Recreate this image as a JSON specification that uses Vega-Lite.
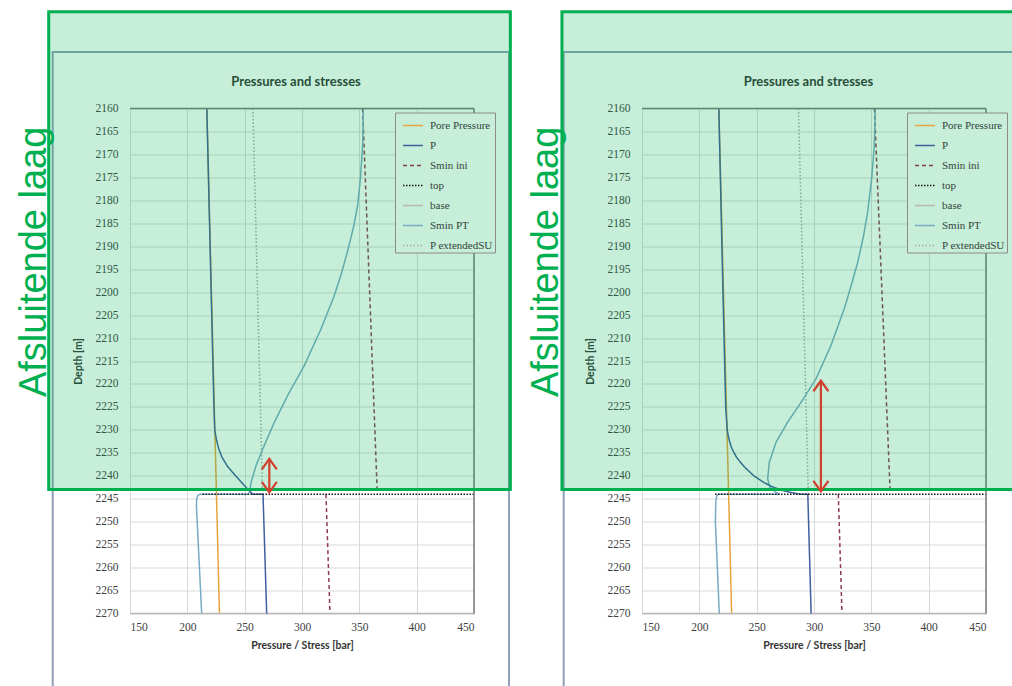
{
  "$schema": "https://vega.github.io/schema/vega-lite/v6.json",
  "padding": {"left": 15, "top": 9.5, "right": 0, "bottom": 0},
  "background": "white",
  "bounds": "flush",
  "spacing": 168,
  "datasets": {
    "seriesL": [
      {"s": "Pore Pressure", "g": "A", "d": 2160, "v": 217},
      {"s": "Pore Pressure", "g": "A", "d": 2270, "v": 228},
      {"s": "P extendedSU", "g": "E", "d": 2160, "v": 257.2},
      {"s": "P extendedSU", "g": "E", "d": 2244, "v": 265.6},
      {"s": "Smin ini", "g": "S1", "d": 2160, "v": 352.9},
      {"s": "Smin ini", "g": "S1", "d": 2243.5, "v": 365.6},
      {"s": "Smin ini", "g": "S2", "d": 2244, "v": 320.9},
      {"s": "Smin ini", "g": "S2", "d": 2270, "v": 324.4},
      {"s": "base", "g": "B", "d": 2270, "v": 150},
      {"s": "base", "g": "B", "d": 2270, "v": 450},
      {"s": "Smin PT", "g": "T", "d": 2160, "v": 353.5},
      {"s": "Smin PT", "g": "T", "d": 2164, "v": 353.3},
      {"s": "Smin PT", "g": "T", "d": 2168, "v": 352.9},
      {"s": "Smin PT", "g": "T", "d": 2175, "v": 351.0},
      {"s": "Smin PT", "g": "T", "d": 2181, "v": 348.6},
      {"s": "Smin PT", "g": "T", "d": 2186, "v": 344.8},
      {"s": "Smin PT", "g": "T", "d": 2191, "v": 339.8},
      {"s": "Smin PT", "g": "T", "d": 2196, "v": 334.3},
      {"s": "Smin PT", "g": "T", "d": 2201, "v": 327.8},
      {"s": "Smin PT", "g": "T", "d": 2208, "v": 316.6},
      {"s": "Smin PT", "g": "T", "d": 2216, "v": 302.0},
      {"s": "Smin PT", "g": "T", "d": 2222.5, "v": 287.5},
      {"s": "Smin PT", "g": "T", "d": 2228.4, "v": 275.8},
      {"s": "Smin PT", "g": "T", "d": 2234.2, "v": 265.7},
      {"s": "Smin PT", "g": "T", "d": 2237.8, "v": 259.9},
      {"s": "Smin PT", "g": "T", "d": 2241.4, "v": 255.6},
      {"s": "Smin PT", "g": "T", "d": 2243.6, "v": 254.3},
      {"s": "Smin PT", "g": "T", "d": 2244, "v": 253},
      {"s": "Smin PT", "g": "T", "d": 2244, "v": 211},
      {"s": "Smin PT", "g": "T", "d": 2244.3, "v": 209.2},
      {"s": "Smin PT", "g": "T", "d": 2245, "v": 208.2},
      {"s": "Smin PT", "g": "T", "d": 2246.5, "v": 207.9},
      {"s": "Smin PT", "g": "T", "d": 2270, "v": 212.5},
      {"s": "P", "g": "P1", "d": 2160, "v": 217},
      {"s": "P", "g": "P1", "d": 2200, "v": 220.8},
      {"s": "P", "g": "P1", "d": 2225, "v": 223.2},
      {"s": "P", "g": "P1", "d": 2230, "v": 223.9},
      {"s": "P", "g": "P1", "d": 2232, "v": 225.3},
      {"s": "P", "g": "P1", "d": 2234, "v": 227.2},
      {"s": "P", "g": "P1", "d": 2236, "v": 230.3},
      {"s": "P", "g": "P1", "d": 2238, "v": 235.2},
      {"s": "P", "g": "P1", "d": 2240, "v": 242.0},
      {"s": "P", "g": "P1", "d": 2241.5, "v": 247.5},
      {"s": "P", "g": "P1", "d": 2243, "v": 253.0},
      {"s": "P", "g": "P1", "d": 2244, "v": 257},
      {"s": "P", "g": "P1", "d": 2244, "v": 266},
      {"s": "P", "g": "P1", "d": 2270, "v": 269.2},
      {"s": "top", "g": "O", "d": 2244, "v": 213.2},
      {"s": "top", "g": "O", "d": 2244, "v": 450}
    ],
    "seriesR": [
      {"s": "Pore Pressure", "g": "A", "d": 2160, "v": 217},
      {"s": "Pore Pressure", "g": "A", "d": 2270, "v": 228.2},
      {"s": "P extendedSU", "g": "E", "d": 2160, "v": 286.5},
      {"s": "P extendedSU", "g": "E", "d": 2244, "v": 295.0},
      {"s": "Smin ini", "g": "S1", "d": 2160, "v": 352.7},
      {"s": "Smin ini", "g": "S1", "d": 2243.5, "v": 366.4},
      {"s": "Smin ini", "g": "S2", "d": 2244, "v": 321.2},
      {"s": "Smin ini", "g": "S2", "d": 2270, "v": 324.4},
      {"s": "base", "g": "B", "d": 2270, "v": 150},
      {"s": "base", "g": "B", "d": 2270, "v": 450},
      {"s": "Smin PT", "g": "T", "d": 2160, "v": 353.5},
      {"s": "Smin PT", "g": "T", "d": 2168, "v": 352.6},
      {"s": "Smin PT", "g": "T", "d": 2175, "v": 350.4},
      {"s": "Smin PT", "g": "T", "d": 2182.6, "v": 346.8},
      {"s": "Smin PT", "g": "T", "d": 2188, "v": 343.0},
      {"s": "Smin PT", "g": "T", "d": 2193.5, "v": 338.1},
      {"s": "Smin PT", "g": "T", "d": 2198.5, "v": 332.5},
      {"s": "Smin PT", "g": "T", "d": 2203.6, "v": 326.4},
      {"s": "Smin PT", "g": "T", "d": 2211.6, "v": 314.8},
      {"s": "Smin PT", "g": "T", "d": 2218.9, "v": 301.7},
      {"s": "Smin PT", "g": "T", "d": 2224, "v": 288.7},
      {"s": "Smin PT", "g": "T", "d": 2228.3, "v": 277.1},
      {"s": "Smin PT", "g": "T", "d": 2232.7, "v": 266.9},
      {"s": "Smin PT", "g": "T", "d": 2237.1, "v": 261.0},
      {"s": "Smin PT", "g": "T", "d": 2240.7, "v": 259.6},
      {"s": "Smin PT", "g": "T", "d": 2242.5, "v": 261.5},
      {"s": "Smin PT", "g": "T", "d": 2243.5, "v": 266},
      {"s": "Smin PT", "g": "T", "d": 2244, "v": 270},
      {"s": "Smin PT", "g": "T", "d": 2244, "v": 216.5},
      {"s": "Smin PT", "g": "T", "d": 2244.4, "v": 215.2},
      {"s": "Smin PT", "g": "T", "d": 2245.5, "v": 214.4},
      {"s": "Smin PT", "g": "T", "d": 2250, "v": 214.0},
      {"s": "Smin PT", "g": "T", "d": 2270, "v": 217.4},
      {"s": "P", "g": "P1", "d": 2160, "v": 217},
      {"s": "P", "g": "P1", "d": 2200, "v": 220.6},
      {"s": "P", "g": "P1", "d": 2225, "v": 223.0},
      {"s": "P", "g": "P1", "d": 2230, "v": 224.3},
      {"s": "P", "g": "P1", "d": 2232, "v": 225.8},
      {"s": "P", "g": "P1", "d": 2234, "v": 228.2},
      {"s": "P", "g": "P1", "d": 2236, "v": 232.5},
      {"s": "P", "g": "P1", "d": 2238, "v": 239.0},
      {"s": "P", "g": "P1", "d": 2240, "v": 247.5},
      {"s": "P", "g": "P1", "d": 2241.5, "v": 256.5},
      {"s": "P", "g": "P1", "d": 2242.5, "v": 264.5},
      {"s": "P", "g": "P1", "d": 2243.3, "v": 274},
      {"s": "P", "g": "P1", "d": 2243.8, "v": 283},
      {"s": "P", "g": "P1", "d": 2244, "v": 288},
      {"s": "P", "g": "P1", "d": 2244, "v": 294.6},
      {"s": "P", "g": "P1", "d": 2270, "v": 297.5},
      {"s": "top", "g": "O", "d": 2244, "v": 213.7},
      {"s": "top", "g": "O", "d": 2244, "v": 450}
    ],
    "edge": [
      {"v": 150, "d": 2160, "v2": 450, "d2": 2160},
      {"v": 450, "d": 2160, "v2": 450, "d2": 2270}
    ],
    "frameBoxL": [{"v": 82.6, "v2": 480.5, "d": 2147.7, "d2": 2290}],
    "frameBoxR": [{"v": 81.7, "v2": 500, "d": 2147.7, "d2": 2290}],
    "greenL": [{"v": 79.1, "v2": 481.7, "d": 2138.9, "d2": 2243.0}],
    "greenR": [{"v": 80.2, "v2": 490, "d": 2138.9, "d2": 2243.0}],
    "arrowL": [{"v": 271.5, "d": 2236.3, "d2": 2243.6}],
    "arrowR": [{"v": 306, "d": 2219.3, "d2": 2243.4}],
    "headsL": [{"v": 271.5, "d": 2236.3, "h": "up"}, {"v": 271.5, "d": 2243.6, "h": "down"}],
    "headsR": [{"v": 306, "d": 2219.3, "h": "up"}, {"v": 306, "d": 2243.4, "h": "down"}],
    "labelL": [{"v": 76.7, "d": 2193.4, "t": "Afsluitende laag"}],
    "labelR": [{"v": 76.7, "d": 2193.4, "t": "Afsluitende laag"}],
    "titleL": [{"v": 294.8, "d": 2155.2, "t": "Pressures and stresses"}],
    "titleR": [{"v": 295.2, "d": 2155.2, "t": "Pressures and stresses"}]
  },
  "hconcat": [
    {
      "width": 344,
      "height": 505,
      "encoding": {
        "x": {"field": "v", "type": "quantitative", "title": "Pressure / Stress [bar]", "scale": {"domain": [150, 450], "nice": false, "zero": false}, "axis": {"values": [150, 200, 250, 300, 350, 400, 450], "format": "d"}},
        "y": {"field": "d", "type": "quantitative", "title": "Depth [m]", "scale": {"domain": [2160, 2270], "reverse": true, "nice": false, "zero": false}, "axis": {"format": "d", "values": [2160, 2165, 2170, 2175, 2180, 2185, 2190, 2195, 2200, 2205, 2210, 2215, 2220, 2225, 2230, 2235, 2240, 2245, 2250, 2255, 2260, 2265, 2270]}}
      },
      "layer": [
        {"data": {"name": "frameBoxL"}, "mark": {"type": "rect", "fill": "transparent", "stroke": "#8FA0B8", "strokeWidth": 2}, "encoding": {"x2": {"field": "v2"}, "y2": {"field": "d2"}}},
        {"data": {"name": "seriesL"}, "mark": {"type": "line", "strokeWidth": 1.5},
         "encoding": {
           "color": {"field": "s", "type": "nominal", "scale": {"domain": ["Pore Pressure", "P", "Smin ini", "top", "base", "Smin PT", "P extendedSU"], "range": ["#E8A33D", "#3F5F9E", "#8E3B4E", "#1a1a1a", "#B8B8B8", "#7AAAC4", "#A8A8A8"]}, "legend": {"title": null}},
           "strokeDash": {"field": "s", "type": "nominal", "scale": {"domain": ["Pore Pressure", "P", "Smin ini", "top", "base", "Smin PT", "P extendedSU"], "range": [[1, 0], [1, 0], [4, 3], [1.5, 1.5], [1, 0], [1, 0], [1.5, 2]]}, "legend": {"title": null}},
           "detail": {"field": "g"},
           "order": {"value": null}
         }},
        {"data": {"name": "edge"}, "mark": {"type": "rule", "color": "#7a7a7a", "strokeWidth": 1.5}, "encoding": {"x2": {"field": "v2"}, "y2": {"field": "d2"}}},
        {"data": {"name": "titleL"}, "mark": {"type": "text", "align": "center", "baseline": "alphabetic", "font": "Lato", "fontSize": 13, "fontWeight": "bold", "color": "#333333"}, "encoding": {"text": {"field": "t"}}},
        {"data": {"name": "greenL"}, "mark": {"type": "rect", "fill": "#00B050", "fillOpacity": 0.22, "stroke": "#00B050", "strokeWidth": 3}, "encoding": {"x2": {"field": "v2"}, "y2": {"field": "d2"}}},
        {"data": {"name": "arrowL"}, "mark": {"type": "rule", "color": "#D0402C", "strokeWidth": 2.2}, "encoding": {"y2": {"field": "d2"}}},
        {"data": {"name": "headsL"}, "mark": {"type": "point", "filled": false, "color": "#D0402C", "strokeWidth": 2.2, "size": 225, "opacity": 1},
         "encoding": {"shape": {"field": "h", "type": "nominal", "scale": {"domain": ["up", "down"], "range": ["M -1 1.4 L 0 0 L 1 1.4", "M -1 -1.4 L 0 0 L 1 -1.4"]}, "legend": null}}},
        {"data": {"name": "labelL"}, "mark": {"type": "text", "angle": 270, "align": "center", "baseline": "alphabetic", "font": "Liberation Sans", "fontSize": 38, "color": "#00B050"}, "encoding": {"text": {"field": "t"}}}
      ]
    },
    {
      "width": 344,
      "height": 505,
      "encoding": {
        "x": {"field": "v", "type": "quantitative", "title": "Pressure / Stress [bar]", "scale": {"domain": [150, 450], "nice": false, "zero": false}, "axis": {"values": [150, 200, 250, 300, 350, 400, 450], "format": "d"}},
        "y": {"field": "d", "type": "quantitative", "title": "Depth [m]", "scale": {"domain": [2160, 2270], "reverse": true, "nice": false, "zero": false}, "axis": {"format": "d", "values": [2160, 2165, 2170, 2175, 2180, 2185, 2190, 2195, 2200, 2205, 2210, 2215, 2220, 2225, 2230, 2235, 2240, 2245, 2250, 2255, 2260, 2265, 2270]}}
      },
      "layer": [
        {"data": {"name": "frameBoxR"}, "mark": {"type": "rect", "fill": "transparent", "stroke": "#8FA0B8", "strokeWidth": 2}, "encoding": {"x2": {"field": "v2"}, "y2": {"field": "d2"}}},
        {"data": {"name": "seriesR"}, "mark": {"type": "line", "strokeWidth": 1.5},
         "encoding": {
           "color": {"field": "s", "type": "nominal", "scale": {"domain": ["Pore Pressure", "P", "Smin ini", "top", "base", "Smin PT", "P extendedSU"], "range": ["#E8A33D", "#3F5F9E", "#8E3B4E", "#1a1a1a", "#B8B8B8", "#7AAAC4", "#A8A8A8"]}, "legend": {"title": null}},
           "strokeDash": {"field": "s", "type": "nominal", "scale": {"domain": ["Pore Pressure", "P", "Smin ini", "top", "base", "Smin PT", "P extendedSU"], "range": [[1, 0], [1, 0], [4, 3], [1.5, 1.5], [1, 0], [1, 0], [1.5, 2]]}, "legend": {"title": null}},
           "detail": {"field": "g"},
           "order": {"value": null}
         }},
        {"data": {"name": "edge"}, "mark": {"type": "rule", "color": "#7a7a7a", "strokeWidth": 1.5}, "encoding": {"x2": {"field": "v2"}, "y2": {"field": "d2"}}},
        {"data": {"name": "titleR"}, "mark": {"type": "text", "align": "center", "baseline": "alphabetic", "font": "Lato", "fontSize": 13, "fontWeight": "bold", "color": "#333333"}, "encoding": {"text": {"field": "t"}}},
        {"data": {"name": "greenR"}, "mark": {"type": "rect", "fill": "#00B050", "fillOpacity": 0.22, "stroke": "#00B050", "strokeWidth": 3}, "encoding": {"x2": {"field": "v2"}, "y2": {"field": "d2"}}},
        {"data": {"name": "arrowR"}, "mark": {"type": "rule", "color": "#D0402C", "strokeWidth": 2.2}, "encoding": {"y2": {"field": "d2"}}},
        {"data": {"name": "headsR"}, "mark": {"type": "point", "filled": false, "color": "#D0402C", "strokeWidth": 2.2, "size": 225, "opacity": 1},
         "encoding": {"shape": {"field": "h", "type": "nominal", "scale": {"domain": ["up", "down"], "range": ["M -1 1.4 L 0 0 L 1 1.4", "M -1 -1.4 L 0 0 L 1 -1.4"]}, "legend": null}}},
        {"data": {"name": "labelR"}, "mark": {"type": "text", "angle": 270, "align": "center", "baseline": "alphabetic", "font": "Liberation Sans", "fontSize": 38, "color": "#00B050"}, "encoding": {"text": {"field": "t"}}}
      ]
    }
  ],
  "resolve": {
    "scale": {"color": "independent", "strokeDash": "independent", "shape": "independent", "x": "independent", "y": "independent"},
    "legend": {"color": "independent", "strokeDash": "independent"}
  },
  "config": {
    "view": {"stroke": null},
    "axis": {"grid": true, "gridColor": "#D9D9D9", "domain": false, "ticks": false, "tickSize": 0, "labelFont": "Liberation Serif", "labelFontSize": 11.5, "labelColor": "#404040", "titleFont": "Lato", "titleFontWeight": "bold", "titleFontSize": 10.5, "titleColor": "#333333"},
    "axisX": {"labelPadding": 8, "titlePadding": 7},
    "axisY": {"labelPadding": 12, "titlePadding": 12},
    "legend": {"orient": "none", "legendX": 265, "legendY": 4, "symbolType": "stroke", "symbolSize": 400, "symbolStrokeWidth": 1.5, "labelFont": "Liberation Serif", "labelFontSize": 11, "labelColor": "#33443c", "strokeColor": "#8c8c8c", "fillColor": "#C7EED9", "padding": 2, "rowPadding": 4, "symbolOffset": 5, "labelOffset": 6}
  }
}
